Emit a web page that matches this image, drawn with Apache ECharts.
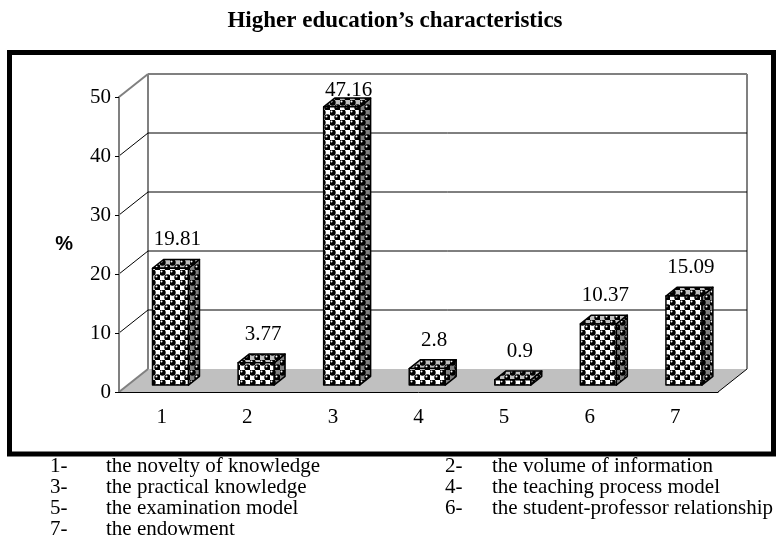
<!DOCTYPE html>
<html>
<head>
<meta charset="utf-8">
<script src="https://cdn.jsdelivr.net/npm/echarts@6/dist/echarts.min.js"></script>
<style>
  html, body { margin: 0; padding: 0; background: #fff; }
  #main { width: 779px; height: 553px; }
</style>
</head>
<body>
<div id="main"></div>
<script>
// chart data
var categories = ['1', '2', '3', '4', '5', '6', '7'];
var values = [19.81, 3.77, 47.16, 2.8, 0.9, 10.37, 15.09];
var gridValues = [10, 20, 30, 40];
var notes = [
  'the novelty of knowledge',
  'the volume of information',
  'the practical knowledge',
  'the teaching process model',
  'the examination model',
  'the student-professor relationship',
  'the endowment'
];

// depth of the fake 3d box (pixels)
var DX = 29, DY = -23;
var FRONT_D = 0.3, BAR_D = 0.38, BAR_W = 0.42;
var SERIF = 'Liberation Serif';

// sphere pattern tiles
function makeTile(bg) {
  var c = document.createElement('canvas');
  c.width = 10; c.height = 10;
  var g = c.getContext('2d');
  g.fillStyle = bg;
  g.fillRect(0, 0, 10, 10);
  [[2.5, 2.5], [7.5, 7.5]].forEach(function (p) {
    g.fillStyle = '#000';
    g.beginPath(); g.arc(p[0], p[1], 3.2, 0, Math.PI * 2); g.fill();
    g.fillStyle = '#fff';
    g.beginPath(); g.arc(p[0] - 1, p[1] - 1, 1, 0, Math.PI * 2); g.fill();
  });
  return c;
}
var frontFill = { image: makeTile('#ffffff'), repeat: 'repeat' };
var sideFill = { image: makeTile('#808080'), repeat: 'repeat' };
var topFill = { image: makeTile('#c0c0c0'), repeat: 'repeat' };

function line(x1, y1, x2, y2, color, w) {
  return {
    type: 'line',
    shape: { x1: x1, y1: y1, x2: x2, y2: y2 },
    style: { stroke: color, lineWidth: w }
  };
}

function renderWalls(params, api) {
  var cs = params.coordSys;
  var x0 = cs.x, x1 = cs.x + cs.width, yt = cs.y, yb = cs.y + cs.height;
  return {
    type: 'group',
    children: [
      { type: 'polygon', shape: { points: [[x0, yb], [x1, yb], [x1 + DX, yb + DY], [x0 + DX, yb + DY]] },
        style: { fill: '#c0c0c0' } },
      line(x1, yb, x1 + DX, yb + DY, '#000', 1),
      line(x0 + DX, yt + DY, x1 + DX, yt + DY, '#808080', 2),
      line(x0 + DX, yt + DY, x0 + DX, yb + DY, '#808080', 2),
      line(x1 + DX, yt + DY, x1 + DX, yb + DY, '#808080', 2),
      line(x0, yt, x0 + DX, yt + DY, '#808080', 2),
      line(x0, yb, x0 + DX, yb + DY, '#808080', 2)
    ]
  };
}

function renderGrid(params, api) {
  var cs = params.coordSys;
  var x0 = cs.x, x1 = cs.x + cs.width;
  var y = api.coord([0, api.value(1)])[1];
  return {
    type: 'group',
    children: [
      line(x0, y, x0 + DX, y + DY, '#000', 1),
      line(x0 + DX, y + DY, x1 + DX, y + DY, '#000', 1)
    ]
  };
}

function renderBar(params, api) {
  var cs = params.coordSys;
  var top = api.coord([api.value(0), api.value(1)]);
  var base = api.coord([api.value(0), 0]);
  var w = api.size([1, 0])[0] * BAR_W;
  var fx = top[0] + DX * FRONT_D - w / 2;
  var fyT = top[1] + DY * FRONT_D;
  var fyB = base[1] + DY * FRONT_D;
  var bx = DX * BAR_D, by = DY * BAR_D;
  var edge = { stroke: '#000', lineWidth: 1.5, lineJoin: 'round' };
  // keep label inside the plot box, like the original
  var labelY = Math.max(fyT + by - 9, cs.y + DY + 27);
  return {
    type: 'group',
    children: [
      { type: 'polygon', shape: { points: [[fx + w, fyT], [fx + w + bx, fyT + by], [fx + w + bx, fyB + by], [fx + w, fyB]] },
        style: Object.assign({ fill: sideFill }, edge) },
      { type: 'polygon', shape: { points: [[fx, fyT], [fx + bx, fyT + by], [fx + w + bx, fyT + by], [fx + w, fyT]] },
        style: Object.assign({ fill: topFill }, edge) },
      { type: 'polygon', shape: { points: [[fx, fyT], [fx + w, fyT], [fx + w, fyB], [fx, fyB]] },
        style: Object.assign({ fill: frontFill }, edge) },
      { type: 'text', x: fx + w / 2 + 7, y: labelY,
        style: { text: String(api.value(1)), align: 'center', verticalAlign: 'bottom',
                 font: '21px "' + SERIF + '"', fill: '#000' } }
    ]
  };
}

// notes under the box
var noteGraphics = [];
notes.forEach(function (t, i) {
  var col = i % 2, row = Math.floor(i / 2);
  var y = 466 + row * 21;
  noteGraphics.push({ type: 'text', x: col ? 445 : 50, y: y,
    style: { text: categories[i] + '-', font: '21px "' + SERIF + '"', fill: '#000', verticalAlign: 'middle' } });
  noteGraphics.push({ type: 'text', x: col ? 492 : 106, y: y,
    style: { text: t, font: '21px "' + SERIF + '"', fill: '#000', verticalAlign: 'middle' } });
});

var chart = echarts.init(document.getElementById('main'));
var option = {
  animation: false,
  backgroundColor: '#fff',
  graphic: [
    { type: 'text', x: 395, y: 21,
      style: { text: 'Higher education\u2019s characteristics', align: 'center', verticalAlign: 'middle',
               font: 'bold 23px "' + SERIF + '"', fill: '#000' } },
    { type: 'rect', shape: { x: 9.5, y: 52.5, width: 764, height: 401.5 },
      style: { fill: 'none', stroke: '#000', lineWidth: 5 } }
  ].concat(noteGraphics),
  grid: { left: 119, right: 61, top: 97, bottom: 161 },
  xAxis: {
    type: 'category',
    data: categories,
    z: 5,
    axisLine: { lineStyle: { color: '#000', width: 1 } },
    axisTick: { length: 5, lineStyle: { color: '#808080' } },
    axisLabel: { fontSize: 21, fontFamily: SERIF, color: '#000', margin: 15 }
  },
  yAxis: {
    type: 'value',
    min: 0, max: 50, interval: 10,
    z: 5,
    name: '%',
    nameLocation: 'middle',
    nameRotate: 0,
    nameGap: 46,
    nameTextStyle: { fontSize: 20, fontWeight: 'bold', fontFamily: 'Liberation Sans', color: '#000' },
    axisLine: { show: true, lineStyle: { color: '#808080', width: 2 } },
    axisTick: { show: true, length: 4, lineStyle: { color: '#000' } },
    axisLabel: { fontSize: 21, fontFamily: SERIF, color: '#000', margin: 8 },
    splitLine: { show: false }
  },
  series: [
    { type: 'custom', renderItem: renderWalls, data: [0], z: 1, silent: true },
    { type: 'custom', renderItem: renderGrid, z: 2, silent: true,
      data: gridValues.map(function (v) { return [0, v]; }),
      encode: { x: 0, y: 1 } },
    { type: 'custom', renderItem: renderBar, z: 3,
      data: values.map(function (v, i) { return [i, v]; }),
      encode: { x: 0, y: 1 } }
  ]
};
chart.setOption(option);
</script>
</body>
</html>
